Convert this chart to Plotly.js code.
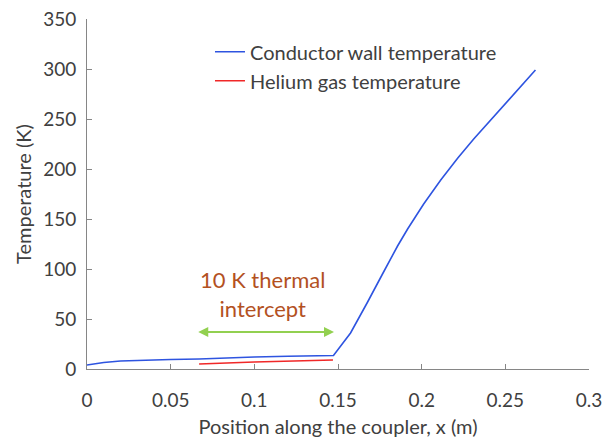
<!DOCTYPE html>
<html><head><meta charset="utf-8">
<script src="https://cdn.plot.ly/plotly-3.0.1.min.js"></script>
<style>html,body{margin:0;padding:0;background:#fff}#chart{width:602px;height:439px}</style>
</head><body><div id="chart"></div>
<script>
const wallX = [0, 0.01, 0.02, 0.035, 0.05, 0.067, 0.08, 0.1, 0.12, 0.1473, 0.1575, 0.1625, 0.1677, 0.1766, 0.1856, 0.1916, 0.1965, 0.2012, 0.2114, 0.2216, 0.2311, 0.2413, 0.2515, 0.261, 0.268];
const wallT = [4, 6.5, 8, 9, 9.5, 10, 11, 12, 12.7, 13.5, 36, 51, 67, 95, 123, 140, 153, 165, 189, 211, 230, 249, 268, 285, 299];
const heX = [0.067, 0.1, 0.147];
const heT = [5, 7, 9];
const seriesNames = ["Conductor wall temperature", "Helium gas temperature"];
const xTitle = "Position along the coupler, x (m)";
const yTitle = "Temperature (K)";
const noteText = "10 K thermal<br>intercept";
const interceptX = [0.0665, 0.1485];
const interceptY = 37;

const font = "Lato, 'Open Sans', sans-serif";
const axisCommon = {
  showgrid: false, zeroline: false, showline: true, linecolor: '#868686', linewidth: 1,
  ticks: 'inside', ticklen: 5, tickcolor: '#868686', ticklabeloverflow: 'allow',
  tickfont: {family: font, size: 19, color: '#404040'}
};
const data = [
  {x: wallX, y: wallT, mode: 'lines', name: seriesNames[0], line: {color: '#2E54E0', width: 1.6}},
  {x: heX, y: heT, mode: 'lines', name: seriesNames[1], line: {color: '#F02828', width: 1.6}}
];
const layout = {
  width: 602, height: 439,
  margin: {l: 87, r: 13, t: 19, b: 70},
  paper_bgcolor: '#fff', plot_bgcolor: '#fff',
  xaxis: Object.assign({}, axisCommon, {range: [0, 0.3], dtick: 0.05, tick0: 0, ticklabelstandoff: 14,
    title: {text: xTitle, font: {family: font, size: 20, color: '#404040'}, standoff: 10}}),
  yaxis: Object.assign({}, axisCommon, {range: [0, 350], dtick: 50, tick0: 0, ticklabelstandoff: 6,
    title: {text: yTitle, font: {family: font, size: 20, color: '#404040'}, standoff: 6}}),
  showlegend: true,
  legend: {x: 0.245, y: 0.962, xanchor: 'left', yanchor: 'top', bgcolor: 'rgba(0,0,0,0)',
    font: {family: font, size: 20, color: '#404040'}, itemwidth: 30, tracegroupgap: 0},
  annotations: [
    {x: interceptX[0], y: interceptY, xref: 'x', yref: 'y', ax: interceptX[1], ay: interceptY, axref: 'x', ayref: 'y',
     showarrow: true, arrowhead: 2, startarrowhead: 2, arrowside: 'end+start', arrowwidth: 2, arrowcolor: '#92D050', text: '', arrowsize: 1, startarrowsize: 1},
    {x: 0.105, y: interceptY + 8, xref: 'x', yref: 'y', yanchor: 'bottom', showarrow: false,
     text: noteText, font: {family: font, size: 22, color: '#B3511F'}, align: 'center'}
  ]
};
Plotly.newPlot('chart', data, layout, {displayModeBar: false, staticPlot: true});
</script></body></html>
